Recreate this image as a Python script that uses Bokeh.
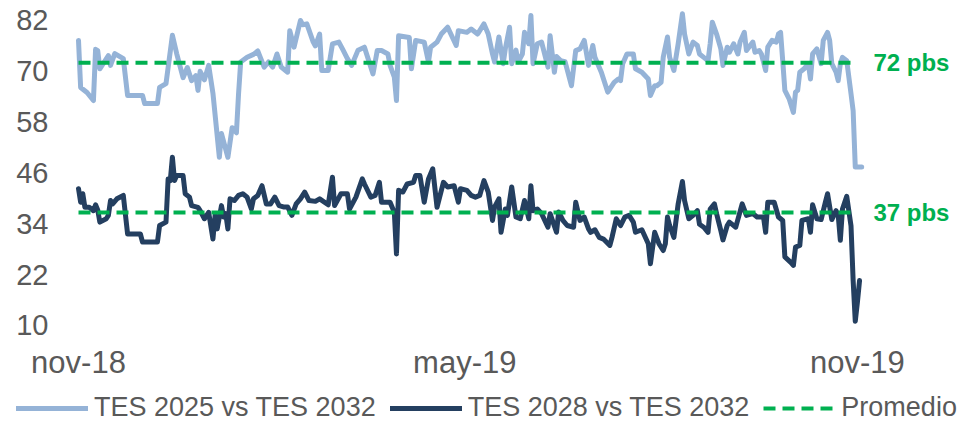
import pandas as pd
from bokeh.plotting import figure
from bokeh.models import Range1d, FixedTicker, Label, Legend, LegendItem
from bokeh.embed import file_html
from bokeh.resources import INLINE

# ---------------- data ----------------
start_date = "2018-11-01"   # day 0 of the day offsets below

# TES 2025 vs TES 2032 (pbs)
a_days = [0, 1, 4, 7, 8, 9, 10, 14, 15, 17,
          20, 21, 23, 30, 31, 37, 38, 41, 44, 46,
          49, 51, 53, 55, 56, 57, 59, 61, 63, 66,
          67, 70, 72, 74, 75, 76, 79, 82, 84, 87,
          89, 91, 93, 95, 98, 99, 101, 104, 105, 107,
          110, 111, 113, 114, 117, 119, 122, 124, 126, 128,
          131, 134, 135, 138, 140, 142, 145, 146, 148, 149,
          150, 155, 156, 158, 162, 164, 165, 168, 170, 173,
          177, 178, 182, 184, 187, 190, 192, 194, 195, 197,
          199, 200, 202, 203, 205, 206, 208, 209, 211, 212,
          213, 215, 217, 220, 221, 223, 224, 226, 228, 231,
          233, 235, 237, 239, 241, 242, 245, 248, 251, 253,
          254, 255, 257, 260, 261, 264, 267, 268, 270, 271,
          273, 274, 276, 277, 279, 281, 283, 284, 286, 288,
          290, 291, 293, 295, 296, 297, 299, 301, 302, 304,
          305, 307, 309, 310, 312, 313, 316, 317, 319, 320,
          322, 323, 325, 327, 328, 329, 330, 331, 333, 335,
          336, 337, 338, 340, 342, 343, 344, 346, 348, 349,
          351, 352, 353, 355, 356, 357, 358, 360, 362, 363,
          364, 367]
a_vals = [77.3, 66.2, 65.0, 63.1, 75.2, 74.9, 70.6, 73.7, 71.4, 74.2,
          73.3, 73.0, 64.3, 64.3, 62.4, 62.4, 66.2, 67.1, 78.5, 74.2,
          68.5, 70.9, 67.8, 69.0, 65.5, 70.0, 68.0, 71.4, 64.8, 49.7,
          55.3, 49.7, 56.7, 55.5, 64.7, 72.2, 73.3, 74.0, 74.8, 71.0,
          72.2, 71.0, 74.1, 71.0, 69.8, 79.6, 75.7, 82.0, 81.0, 81.2,
          76.9, 76.0, 78.8, 70.2, 70.2, 76.5, 76.9, 75.0, 73.0, 71.4,
          75.0, 75.7, 74.1, 69.4, 74.9, 74.9, 74.1, 71.4, 68.6, 63.1,
          78.4, 78.0, 70.6, 77.3, 76.9, 72.2, 75.7, 76.9, 78.8, 80.4,
          76.1, 79.6, 79.2, 80.0, 78.8, 81.2, 78.8, 74.1, 72.2, 78.1,
          71.8, 75.3, 80.4, 71.8, 75.0, 72.2, 74.1, 79.2, 76.5, 83.2,
          71.8, 76.5, 76.9, 71.0, 78.4, 69.8, 73.5, 72.5, 72.3, 66.6,
          74.9, 75.3, 77.3, 71.4, 76.1, 73.3, 69.8, 65.1, 67.4, 68.2,
          67.8, 71.8, 74.1, 74.1, 70.6, 69.8, 68.2, 64.3, 66.6, 66.6,
          67.4, 73.3, 78.1, 73.3, 70.2, 76.5, 83.6, 78.8, 74.1, 76.9,
          76.1, 74.1, 73.3, 72.5, 76.5, 81.6, 78.8, 75.3, 71.4, 75.7,
          74.5, 76.5, 74.1, 76.9, 79.2, 74.9, 76.9, 74.5, 74.9, 74.1,
          70.2, 75.7, 77.3, 76.9, 78.8, 79.2, 72.5, 65.5, 63.5, 60.3,
          65.1, 65.5, 69.8, 70.6, 71.8, 68.2, 74.1, 75.3, 71.8, 77.3,
          79.2, 77.3, 71.8, 69.8, 67.8, 71.8, 73.3, 72.5, 64.7, 60.7,
          47.4, 47.4]

# TES 2028 vs TES 2032 (pbs)
b_days = [0, 1, 2, 3, 5, 7, 8, 9, 10, 13,
          14, 15, 16, 18, 21, 23, 29, 30, 37, 38,
          41, 42, 43, 44, 45, 46, 49, 50, 52, 53,
          56, 57, 59, 61, 63, 64, 65, 67, 68, 69,
          70, 71, 73, 75, 77, 79, 81, 82, 84, 86,
          88, 90, 92, 94, 96, 98, 100, 102, 104, 106,
          108, 111, 113, 117, 119, 120, 123, 126, 127, 130,
          133, 134, 137, 139, 141, 142, 146, 148, 149, 150,
          152, 154, 157, 158, 160, 162, 164, 166, 168, 171,
          173, 176, 178, 179, 182, 184, 186, 188, 190, 192,
          194, 195, 197, 198, 200, 201, 203, 205, 207, 209,
          211, 212, 213, 215, 217, 220, 221, 224, 225, 227,
          229, 232, 233, 235, 237, 239, 240, 242, 244, 246,
          249, 250, 252, 254, 256, 258, 260, 261, 264, 267,
          268, 270, 272, 274, 275, 276, 277, 279, 281, 283,
          284, 286, 288, 290, 291, 293, 295, 296, 298, 299,
          301, 302, 304, 305, 308, 310, 311, 313, 316, 318,
          321, 322, 323, 326, 328, 330, 331, 334, 335, 336,
          338, 339, 342, 343, 344, 346, 348, 350, 351, 353,
          355, 356, 357, 358, 360, 362, 363, 364, 365, 366]
b_vals = [42.3, 39.1, 41.1, 37.9, 37.9, 37.1, 38.5, 37.3, 34.4, 35.2,
          36.0, 39.5, 38.7, 39.9, 40.7, 31.6, 31.6, 29.7, 29.7, 33.6,
          34.4, 44.6, 44.2, 49.7, 44.2, 45.4, 45.4, 41.1, 40.3, 38.3,
          37.9, 37.1, 35.2, 36.7, 30.4, 36.0, 32.8, 38.3, 35.6, 36.4,
          32.8, 39.9, 39.5, 40.7, 41.1, 40.3, 37.5, 39.9, 40.7, 43.0,
          38.7, 38.7, 40.3, 38.3, 38.0, 38.0, 36.0, 38.7, 39.9, 41.5,
          39.5, 39.3, 39.9, 38.5, 45.0, 38.3, 41.1, 41.1, 37.5, 40.3,
          44.6, 43.4, 40.3, 40.7, 43.8, 39.1, 39.1, 36.7, 26.9, 41.9,
          41.5, 43.4, 43.8, 45.4, 45.4, 39.1, 44.6, 47.0, 37.9, 43.8,
          42.7, 43.0, 39.1, 42.3, 41.9, 40.7, 40.3, 40.7, 44.2, 41.5,
          34.8, 38.0, 39.9, 32.0, 37.5, 36.0, 42.7, 35.6, 35.2, 39.5,
          35.2, 43.0, 37.1, 37.5, 36.4, 33.2, 36.4, 32.0, 36.8, 34.8,
          33.6, 33.2, 39.1, 34.8, 35.6, 32.8, 32.0, 32.6, 30.8, 30.4,
          28.9, 30.8, 35.2, 33.6, 35.6, 36.0, 34.4, 32.0, 32.6, 29.3,
          24.6, 32.0, 29.3, 27.7, 29.3, 35.6, 33.6, 30.8, 38.7, 44.0,
          39.5, 35.2, 36.0, 37.1, 33.9, 33.2, 32.0, 37.5, 38.7, 36.4,
          32.4, 30.2, 33.6, 34.4, 33.2, 36.9, 38.7, 36.0, 36.4, 35.6,
          35.6, 32.0, 39.1, 39.1, 35.6, 34.8, 26.2, 24.8, 24.2, 28.5,
          28.9, 34.8, 35.2, 32.0, 38.5, 35.2, 35.0, 39.1, 41.1, 35.0,
          37.1, 36.0, 30.1, 37.5, 40.5, 33.5, 20.6, 11.0, 15.5, 20.6]

# averages ("Promedio")
avg_vals = [72.0, 36.7]
avg_labels = ["72 pbs", "37 pbs"]
avg_span = ["2018-11-01", "2019-11-01"]

# axes
y_ticks = [10, 22, 34, 46, 58, 70, 82]
x_tick_dates = ["2018-11-01", "2019-05-01", "2019-11-01"]
x_tick_labels = ["nov-18", "may-19", "nov-19"]

series_names = ["TES 2025 vs TES 2032", "TES 2028 vs TES 2032", "Promedio"]

# ---------------- styling ----------------
C_LIGHT = "#95B3D7"
C_DARK = "#243F60"
C_GREEN = "#00B050"
C_TEXT = "#595959"
FONT = "Liberation Sans"
STYLE_A = dict(line_color=C_LIGHT, line_width=5, line_join="round", line_cap="round")
STYLE_B = dict(line_color=C_DARK, line_width=5, line_join="round", line_cap="round")
STYLE_AVG = dict(line_color=C_GREEN, line_width=4, line_dash="12 7")

t0 = pd.Timestamp(start_date)
def day(d):
    return (pd.Timestamp(d) - t0).days

W = 965
H_MAIN, H_LEG = 385, 38
BL, BR, BT, BB = 70, 13, 10, 54
PX_PER_DAY = 2.134
FRAME_W = W - BL - BR
x_start = -3.75
x_range = Range1d(x_start, x_start + FRAME_W / PX_PER_DAY)
y_range = Range1d(8.58, 84.36)

p = figure(width=W, height=H_MAIN, output_backend="svg", toolbar_location=None,
           x_range=x_range, y_range=y_range,
           min_border_left=BL, min_border_right=BR, min_border_top=BT,
           min_border_bottom=BB)
p.outline_line_color = None
p.xgrid.visible = False
p.ygrid.visible = False
p.background_fill_color = "white"
p.border_fill_color = "white"

p.line(a_days, a_vals, **STYLE_A)
p.line(b_days, b_vals, **STYLE_B)

avg_x = [day(d) for d in avg_span]
for v, lab in zip(avg_vals, avg_labels):
    p.line(avg_x, [v, v], **STYLE_AVG)
    p.add_layout(Label(x=avg_x[1], y=v, text=lab, x_offset=16,
                       text_baseline="middle", text_align="left",
                       text_color=C_GREEN, text_font=FONT,
                       text_font_style="bold", text_font_size="24px"))

# y axis
p.yaxis.ticker = FixedTicker(ticks=y_ticks)
p.yaxis.axis_line_color = None
p.yaxis.major_tick_line_color = None
p.yaxis.minor_tick_line_color = None
p.yaxis.major_label_standoff = 16
p.yaxis.major_label_text_font = FONT
p.yaxis.major_label_text_font_size = "29px"
p.yaxis.major_label_text_color = C_TEXT

# x axis
xt = [day(d) for d in x_tick_dates]
p.xaxis.ticker = FixedTicker(ticks=xt)
p.xaxis.major_label_overrides = {t: l for t, l in zip(xt, x_tick_labels)}
p.xaxis.axis_line_color = None
p.xaxis.major_tick_line_color = None
p.xaxis.minor_tick_line_color = None
p.xaxis.major_label_standoff = 7
p.xaxis.major_label_text_font = FONT
p.xaxis.major_label_text_font_size = "31px"
p.xaxis.major_label_text_color = C_TEXT

# ---------------- legend strip (separate root, below the chart) ----------------
q = figure(width=W, height=H_LEG, output_backend="svg", toolbar_location=None,
           x_range=Range1d(0, 1), y_range=Range1d(0, 1),
           x_axis_location=None, y_axis_location=None,
           min_border_left=0, min_border_right=0, min_border_top=0,
           min_border_bottom=0)
q.outline_line_color = None
q.xgrid.visible = False
q.ygrid.visible = False
nan = [float("nan")]
qa = q.line(nan, nan, **STYLE_A)
qb = q.line(nan, nan, **STYLE_B)
qc = q.line(nan, nan, **STYLE_AVG)

legend = Legend(items=[LegendItem(label=series_names[0], renderers=[qa]),
                       LegendItem(label=series_names[1], renderers=[qb]),
                       LegendItem(label=series_names[2], renderers=[qc])],
                orientation="horizontal", location=(16, 0),
                glyph_width=72, glyph_height=26, label_standoff=6, spacing=14,
                padding=0, margin=0, border_line_color=None,
                background_fill_alpha=0,
                label_text_font=FONT, label_text_font_size="27px",
                label_text_color=C_TEXT)
q.add_layout(legend)

open("out.html", "w").write(file_html([p, q], INLINE))
